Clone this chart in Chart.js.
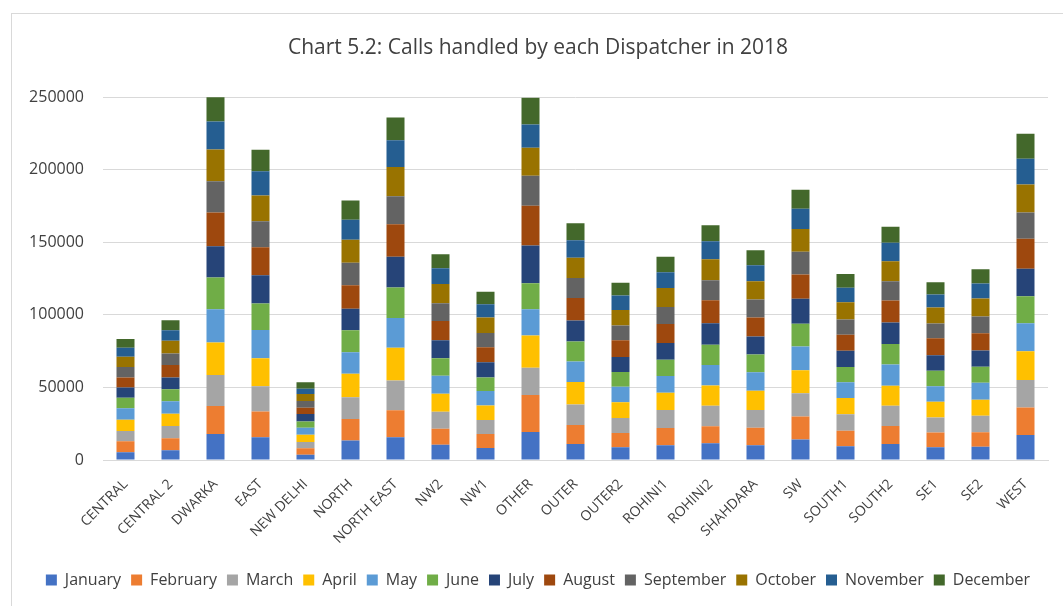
<!DOCTYPE html>
<html>
<head>
<meta charset="utf-8">
<script src="https://cdn.jsdelivr.net/npm/chart.js@4/dist/chart.umd.min.js"></script>
<style>
  html, body { margin: 0; padding: 0; background: #ffffff; overflow: hidden; }
  #wrap { position: relative; width: 1063px; height: 606px; }
  #frame { position: absolute; left: 11px; top: 13px; width: 1100px; height: 700px; border: 1.5px solid #D9D9D9; box-sizing: border-box; }
  #c { position: absolute; left: 0; top: 0; }
</style>
</head>
<body>
<div id="wrap">
  <div id="frame"></div>
  <canvas id="c" width="1063" height="606"></canvas>
</div>
<script>
const categories = ["CENTRAL", "CENTRAL 2", "DWARKA", "EAST", "NEW DELHI", "NORTH", "NORTH EAST", "NW2", "NW1", "OTHER", "OUTER", "OUTER2", "ROHINI1", "ROHINI2", "SHAHDARA", "SW", "SOUTH1", "SOUTH2", "SE1", "SE2", "WEST"];
const months = ["January", "February", "March", "April", "May", "June", "July", "August", "September", "October", "November", "December"];
const yTicks = [0, 50000, 100000, 150000, 200000, 250000];

const january   = [5300, 6650, 17900, 15600, 3670, 13500, 15600, 10550, 8260, 19300, 11000, 8700, 10100, 11500, 10100, 14200, 9400, 11000, 8700, 9180, 17200];
const february  = [7600, 8260, 19300, 17900, 4360, 14700, 18600, 11000, 9630, 25500, 13100, 9860, 11900, 11700, 12150, 15800, 10800, 12400, 10300, 9860, 19000];
const march     = [7100, 8500, 21300, 17400, 4360, 15100, 20600, 11700, 9630, 18800, 14200, 10300, 12400, 14200, 12150, 16050, 11250, 14000, 10300, 11500, 19000];
const april     = [7800, 8500, 22500, 19300, 5050, 16100, 22500, 12400, 10100, 22250, 15400, 11000, 11900, 14000, 13300, 15800, 11250, 13760, 10800, 11000, 19700];
const may       = [7800, 8500, 22900, 19300, 4800, 14900, 20600, 12400, 9860, 18100, 14200, 10550, 11500, 14000, 12850, 16300, 10800, 14700, 10800, 11700, 19300];
const june      = [7300, 8260, 21800, 18350, 4360, 15100, 20900, 12150, 9400, 17900, 13800, 10300, 11250, 14000, 12150, 15800, 10550, 14000, 10550, 11000, 18600];
const july      = [7100, 8260, 21600, 19500, 5050, 14900, 21300, 12400, 10550, 25900, 14450, 10300, 11500, 14900, 12400, 17200, 11250, 14900, 10800, 11250, 19000];
const august    = [6900, 8500, 23200, 19300, 4360, 16100, 22300, 13100, 10300, 27500, 15400, 11500, 13100, 15800, 13100, 16750, 11000, 15100, 11700, 11900, 20650];
const september = [7100, 8000, 21600, 17900, 4590, 15600, 19300, 12400, 9860, 20650, 13800, 10100, 11700, 13800, 12400, 15600, 10550, 13300, 10100, 11500, 18100];
const october   = [7100, 8700, 21800, 17700, 4800, 15800, 20200, 13100, 10550, 19300, 14000, 10800, 13100, 14450, 12600, 15600, 11900, 13760, 11000, 12400, 19300];
const november  = [6200, 7300, 19300, 16700, 3670, 13800, 18350, 11000, 9180, 16050, 12150, 9860, 11000, 12400, 11000, 14000, 9860, 12850, 8950, 10300, 17700];
const december  = [6000, 6900, 16900, 14900, 4590, 13300, 15800, 9640, 8700, 18350, 11700, 8950, 10550, 11000, 10300, 13100, 9630, 11000, 8500, 9860, 17200];

const series = [january, february, march, april, may, june, july, august, september, october, november, december];
const colors = ["#4472C4", "#ED7D31", "#A5A5A5", "#FFC000", "#5B9BD5", "#70AD47", "#264478", "#9E480E", "#636363", "#997300", "#255E91", "#43682B"];

const textColor = "#404040";
const FONT = "'Open Sans', 'Noto Sans', sans-serif";

new Chart(document.getElementById("c"), {
  type: "bar",
  data: {
    labels: categories,
    datasets: months.map((m, i) => ({
      label: m,
      data: series[i],
      backgroundColor: colors[i],
      borderWidth: 0,
      categoryPercentage: 1.0,
      barPercentage: 0.4
    }))
  },
  options: {
    responsive: false,
    devicePixelRatio: 1,
    animation: false,
    layout: { padding: { left: 28, right: 15, top: 0, bottom: 8 } },
    plugins: {
      title: {
        display: true,
        text: "Chart 5.2: Calls handled by each Dispatcher in 2018",
        color: textColor,
        font: { family: FONT, size: 21, weight: "normal", lineHeight: 1.2 },
        padding: { top: 35, bottom: 37 }
      },
      legend: {
        position: "bottom",
        labels: {
          color: textColor,
          font: { family: FONT, size: 16 },
          boxWidth: 11,
          boxHeight: 11,
          padding: 10
        }
      },
      tooltip: { enabled: false }
    },
    scales: {
      x: {
        stacked: true,
        grid: { display: false },
        border: { display: true, color: "#D9D9D9", width: 1 },
        ticks: {
          color: textColor,
          font: { family: FONT, size: 14 },
          maxRotation: 45,
          minRotation: 45,
          autoSkip: false,
          padding: 8
        },
        afterFit: (s) => { s.height = 102; }
      },
      y: {
        stacked: true,
        min: 0,
        max: 250000,
        afterBuildTicks: (s) => { s.ticks = yTicks.map(v => ({ value: v })); },
        grid: { color: "#D9D9D9", lineWidth: 1, drawTicks: false },
        border: { display: false },
        ticks: {
          color: textColor,
          font: { family: FONT, size: 16 },
          padding: 19,
          callback: (v) => String(v)
        },
        afterFit: (s) => { s.width = 75; }
      }
    }
  }
});
</script>
</body>
</html>
